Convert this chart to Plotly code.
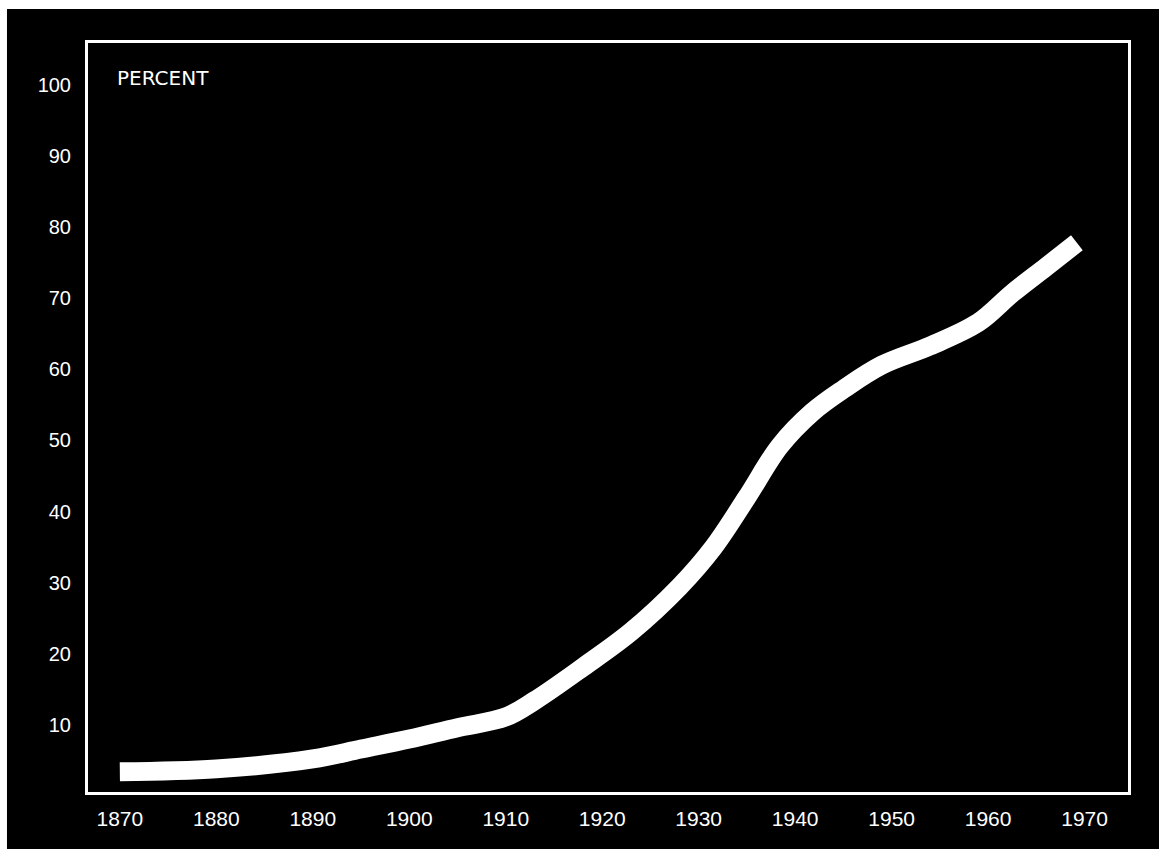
import plotly.graph_objects as go

# Data (percent, by year)
years = [1870, 1880, 1890, 1895, 1900, 1905, 1910, 1913, 1918, 1923, 1928,
         1931.5, 1935, 1938.4, 1941.8, 1945, 1949, 1954, 1959, 1962.5, 1966, 1969.2]
percent = [3.4, 3.8, 5.2, 6.6, 8.0, 9.6, 11.1, 13.4, 18.1, 23.1, 29.4,
           34.9, 42.0, 49.2, 54.0, 57.2, 60.6, 63.3, 66.6, 70.7, 74.4, 77.8]

x_ticks = [1870, 1880, 1890, 1900, 1910, 1920, 1930, 1940, 1950, 1960, 1970]
x_labels = [str(v) for v in x_ticks]
y_ticks = [10, 20, 30, 40, 50, 60, 70, 80, 90, 100]
y_labels = [str(v) for v in y_ticks]

fig = go.Figure()
fig.add_trace(go.Scatter(
    x=years, y=percent, mode="lines",
    line=dict(color="white", width=19, shape="spline", smoothing=1.0),
    hoverinfo="skip", showlegend=False,
))

font_family = "Liberation Sans, Arial, sans-serif"

fig.update_layout(
    width=1159, height=849,
    margin=dict(l=88, r=31, t=43, b=57),
    paper_bgcolor="black", plot_bgcolor="black",
    showlegend=False,
    xaxis=dict(
        range=[1866.7, 1974.5], tickvals=x_ticks, ticktext=x_labels,
        showgrid=False, zeroline=False, ticks="",
        showline=True, linecolor="white", linewidth=3, mirror=True,
        tickfont=dict(color="white", size=21, family=font_family),
        ticklabelstandoff=6,
    ),
    yaxis=dict(
        range=[0.55, 105.9], tickvals=y_ticks, ticktext=y_labels,
        showgrid=False, zeroline=False, ticks="",
        showline=True, linecolor="white", linewidth=3, mirror=True,
        tickfont=dict(color="white", size=20, family=font_family),
        ticklabelstandoff=10,
    ),
    annotations=[dict(
        text="PERCENT", xref="paper", yref="paper", x=0.026, y=0.953,
        xanchor="left", yanchor="middle", showarrow=False,
        font=dict(color="white", size=20, family="DejaVu Sans, sans-serif"),
    )],
    shapes=[
        # white scan edge at the top and left of the picture
        dict(type="rect", xref="paper", yref="paper", x0=-0.09, x1=1.03,
             y0=1.0454, y1=1.06, fillcolor="white", line=dict(width=0), layer="above"),
        dict(type="rect", xref="paper", yref="paper", x0=-0.09, x1=-0.0779,
             y0=-0.08, y1=1.06, fillcolor="white", line=dict(width=0), layer="above"),
    ],
)

fig.write_html(
    "out.html",
    config={"displayModeBar": False},
    post_script="document.body.style.margin='0';document.body.style.background='black';",
)
